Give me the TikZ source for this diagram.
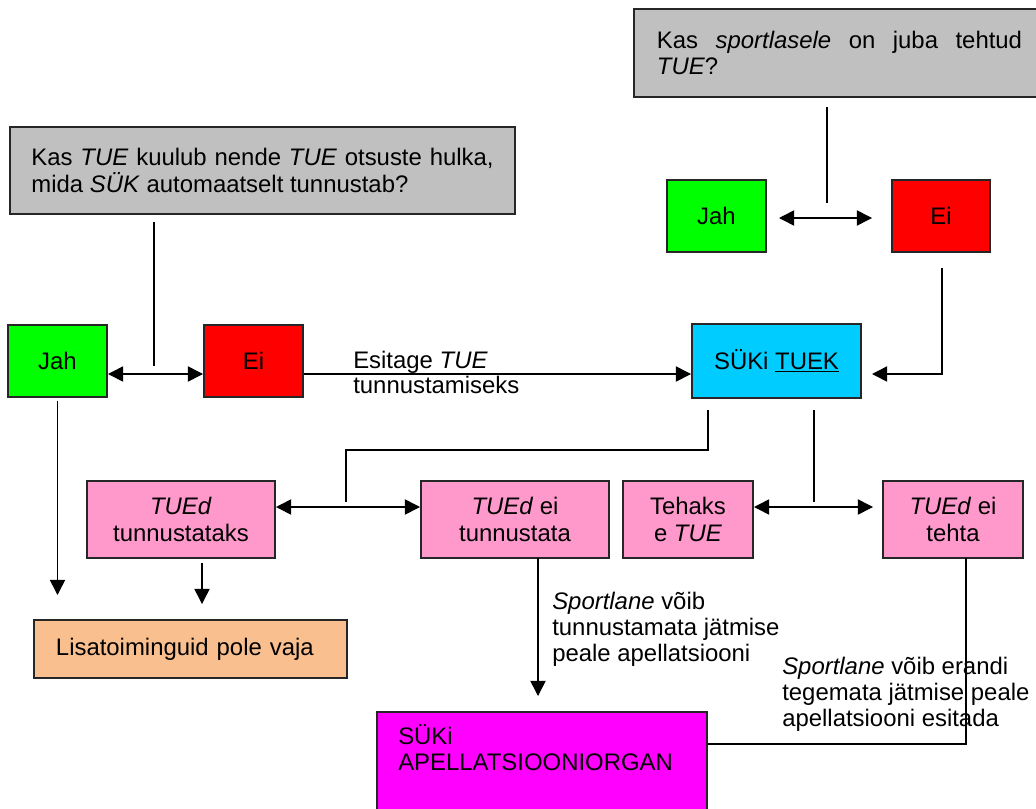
\documentclass[tikz,border=0pt]{standalone}
\usepackage{fontspec}
\setmainfont{Liberation Sans}
\usetikzlibrary{arrows.meta}

\definecolor{qgray}{RGB}{192,192,192}
\definecolor{yesgreen}{RGB}{0,255,0}
\definecolor{nored}{RGB}{255,0,0}
\definecolor{tuekblue}{RGB}{0,204,255}
\definecolor{tuepink}{RGB}{255,153,204}
\definecolor{nonetan}{RGB}{250,191,143}
\definecolor{appealmag}{RGB}{255,0,255}

\tikzset{
  box/.style={draw=black!85, line width=1.4pt, inner sep=0pt, align=center,
    font=\fontsize{17}{19}\selectfont},
  boxsize/.style 2 args={minimum width=#1*0.025cm, minimum height=#2*0.025cm},
  conn/.style={line width=1.1pt},
  arr/.style={conn, -{Triangle[length=0.38cm,width=0.38cm]}},
  darr/.style={conn, {Triangle[length=0.38cm,width=0.38cm]}-{Triangle[length=0.38cm,width=0.38cm]}},
  lbl/.style={inner sep=0pt, align=left, font=\fontsize{17}{18.5}\selectfont}
}

\begin{document}
\begin{tikzpicture}[x=0.025cm,y=-0.025cm]
    \useasboundingbox[fill=white] (0,0) rectangle (1036,808);
    % questions
    \node[box, fill=qgray, boxsize={505}{87}, text width=11.55cm, align=justify] (q1) at (262.5,170.5)
      {Kas \textit{TUE} kuulub nende \textit{TUE} otsuste hulka,\linebreak mida \textit{SÜK} automaatselt tunnustab?};
    \node[box, fill=qgray, boxsize={411}{88}, text width=9.125cm, align=justify] (q2) at (839.5,53)
      {Kas \textit{sportlasele} on juba tehtud\linebreak \textit{TUE}?};
    % answers
    \node[box, fill=yesgreen, boxsize={99}{72}] (jah1) at (57.5,361) {Jah};
    \node[box, fill=nored, boxsize={99}{72}] (ei1) at (253.5,361) {Ei};
    \node[box, fill=yesgreen, boxsize={99}{72}] (jah2) at (716.5,216) {Jah};
    \node[box, fill=nored, boxsize={98}{72}] (ei2) at (941,216) {Ei};
    \node[box, fill=tuekblue, boxsize={169}{74}] (tuek) at (776.5,361) {SÜKi \underline{TUEK}};
    % decisions
    \node[box, fill=tuepink, boxsize={188}{77}] (ok) at (181,519.5) {\textit{TUEd}\\tunnustataks};
    \node[box, fill=tuepink, boxsize={188}{77}] (notok) at (515,519.5) {\textit{TUEd} ei\\tunnustata};
    \node[box, fill=tuepink, boxsize={130}{77}] (ex) at (688,519.5) {Tehaks\\e \textit{TUE}};
    \node[box, fill=tuepink, boxsize={140}{77}] (noex) at (953,519.5) {\textit{TUEd} ei\\tehta};
    \node[box, fill=nonetan, boxsize={313}{58}, text width=6.725cm, align=left, inner xsep=0.55cm] (none) at (190.5,649)
      {Lisatoiminguid pole vaja};
    \node[box, fill=appealmag, boxsize={330}{103}] (appeal) at (542,763.5) {};
    \node[lbl, anchor=north west] (appealtxt) at (398,724) {SÜKi\\APELLATSIOONIORGAN};
    % labels
    \node[lbl, anchor=base west] (sub1) at (353,368) {Esitage \textit{TUE}};
    \node[lbl, anchor=base west] (sub2) at (353,393) {tunnustamiseks};
    \node[lbl, anchor=north west] (lbl1) at (552,592) {\textit{Sportlane} võib\\tunnustamata jätmise\\peale apellatsiooni};
    \node[lbl, anchor=north west] (lbl2) at (782,657) {\textit{Sportlane} võib erandi\\tegemata jätmise peale\\apellatsiooni esitada};
    % connectors
    \coordinate (rowA) at (0,374);
    \coordinate (rowB) at (0,218);
    \coordinate (rowC) at (0,507);
    \coordinate (turn) at (0,450);
    \coordinate (rowD) at (0,744);
    \coordinate (q1a) at (154,222);
    \coordinate (q1b) at (154,366);
    \coordinate (q2a) at (827,107);
    \coordinate (q2b) at (827,203);
    \coordinate (e2a) at (942,268);
    \coordinate (tka) at (708,410);
    \coordinate (tkb) at (346,502);
    \coordinate (tkc) at (814,410);
    \coordinate (tkd) at (814,502);
    \coordinate (oka) at (202,563);
    \coordinate (nta) at (538,558);
    \coordinate (nxa) at (966,558);
    \draw[conn] (q1a) -- (q1b);
    \draw[darr] (jah1.east |- rowA) -- (ei1.west |- rowA);
    \draw[arr] (ei1.east |- rowA) -- (tuek.west |- rowA);
    \draw[conn] (q2a) -- (q2b);
    \draw[darr, shorten <=0.3cm, shorten >=0.475cm] (jah2.east |- rowB) -- (ei2.west |- rowB);
    \draw[arr, shorten >=0.25cm] (e2a) |- (tuek.east |- rowA);
    \draw[conn] (tka) |- (tkb |- turn) -- (tkb);
    \draw[darr] (ok.east |- rowC) -- (notok.west |- rowC);
    \draw[conn] (tkc) -- (tkd);
    \draw[darr, shorten >=0.225cm] (ex.east |- rowC) -- (noex.west |- rowC);
    \draw[arr, shorten <=0.075cm, shorten >=0.6cm] (jah1.south) -- (jah1.south |- none.north);
    \draw[arr, shorten >=0.375cm] (oka) -- (oka |- none.north);
    \draw[arr, shorten >=0.375cm] (nta) -- (nta |- appeal.north);
    \draw[conn] (nxa) |- (appeal.east |- rowD);
\end{tikzpicture}
\end{document}
